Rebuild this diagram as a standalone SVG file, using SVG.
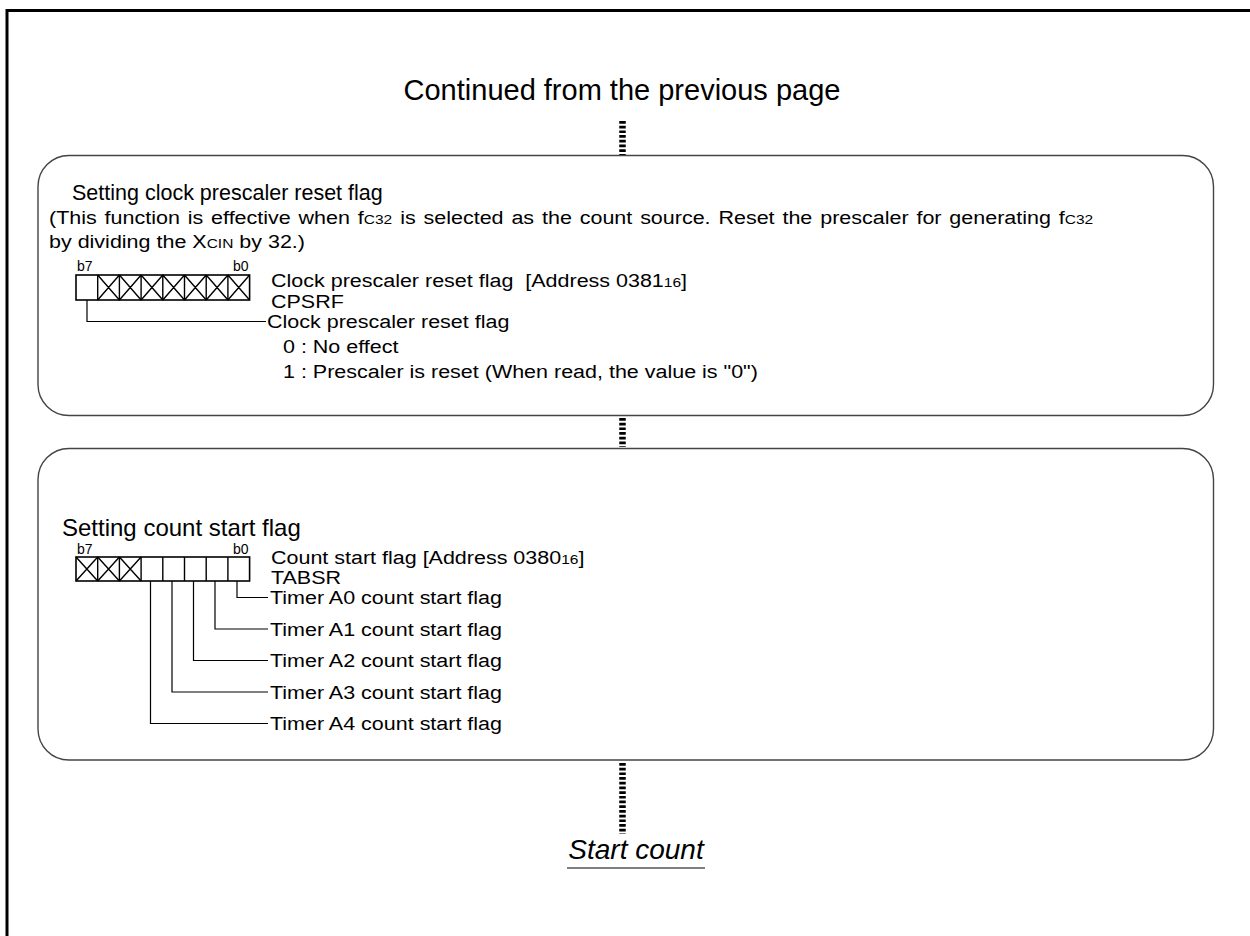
<svg xmlns="http://www.w3.org/2000/svg" width="1250" height="936" viewBox="0 0 1250 936">
<style>
text{font-family:"Liberation Sans",Arial,sans-serif;fill:#000}
.t{font-size:18px}
.h{font-size:24px}
.s{font-size:14px}
.sub{font-size:13px}
.box{fill:none;stroke:#444;stroke-width:1.4}
.reg{fill:#fff;stroke:#000;stroke-width:1.6}
.x{stroke:#000;stroke-width:1.4;fill:none}
.ln{stroke:#000;stroke-width:1.2;fill:none}
.dot{stroke:#000;stroke-width:6.5;stroke-dasharray:2.7 2;fill:none}
</style>
<rect x="7" y="10.5" width="1270" height="960" fill="#fff" stroke="#000" stroke-width="3"/>
<text x="622" y="100" text-anchor="middle" style="font-size:29px">Continued from the previous page</text>
<g id="connectors">
<line class="dot" x1="622.5" y1="121" x2="622.5" y2="155"/>
<line class="dot" x1="622.5" y1="418" x2="622.5" y2="447"/>
<line class="dot" x1="622.5" y1="763" x2="622.5" y2="834"/>
</g>
<g id="step1">
<rect class="box" x="38" y="155.5" width="1175.5" height="260" rx="31"/>
<text class="h" x="72" y="200" style="font-size:21.5px">Setting clock prescaler reset flag</text>
<text class="t" transform="translate(49,224) scale(1.194,1)" style="word-spacing:1.6px">(This function is effective when f<tspan class="sub">C32</tspan> is selected as the count source. Reset the prescaler for generating f<tspan class="sub">C32</tspan></text>
<text class="t" transform="translate(49,248) scale(1.194,1)">by dividing the X<tspan class="sub">CIN</tspan> by 32.)</text>
<text class="s" x="77" y="271">b7</text>
<text class="s" x="233" y="271">b0</text>
<g id="reg1">
<rect class="reg" x="76" y="275" width="173.6" height="25"/>
<path class="x" d="M97.7 275V300M119.4 275V300M141.1 275V300M162.8 275V300M184.5 275V300M206.2 275V300M227.9 275V300"/>
<path class="x" d="M97.7 275L119.4 300M119.4 275L97.7 300M119.4 275L141.1 300M141.1 275L119.4 300M141.1 275L162.8 300M162.8 275L141.1 300M162.8 275L184.5 300M184.5 275L162.8 300M184.5 275L206.2 300M206.2 275L184.5 300M206.2 275L227.9 300M227.9 275L206.2 300M227.9 275L249.6 300M249.6 275L227.9 300"/>
</g>
<text class="t" transform="translate(271,287) scale(1.194,1)" xml:space="preserve">Clock prescaler reset flag  [Address 0381<tspan class="sub">16</tspan>]</text>
<text class="t" transform="translate(271,307.5) scale(1.194,1)">CPSRF</text>
<path class="ln" d="M87 300V321.5H266"/>
<text class="t" transform="translate(267,328) scale(1.194,1)">Clock prescaler reset flag</text>
<text class="t" transform="translate(283,352.5) scale(1.194,1)">0 : No effect</text>
<text class="t" transform="translate(283,377.5) scale(1.194,1)">1 : Prescaler is reset (When read, the value is "0")</text>
</g>
<g id="step2">
<rect class="box" x="38" y="448.5" width="1175.5" height="311.5" rx="31"/>
<text class="h" x="62" y="535.5">Setting count start flag</text>
<text class="s" x="77" y="554">b7</text>
<text class="s" x="233" y="554">b0</text>
<g id="reg2">
<rect class="reg" x="76" y="557" width="173.6" height="24"/>
<path class="x" d="M97.7 557V581M119.4 557V581M141.1 557V581M162.8 557V581M184.5 557V581M206.2 557V581M227.9 557V581"/>
<path class="x" d="M76 557L97.7 581M97.7 557L76 581M97.7 557L119.4 581M119.4 557L97.7 581M119.4 557L141.1 581M141.1 557L119.4 581"/>
</g>
<text class="t" transform="translate(271,563.5) scale(1.194,1)">Count start flag [Address 0380<tspan class="sub">16</tspan>]</text>
<text class="t" transform="translate(271,583.5) scale(1.194,1)">TABSR</text>
<path class="ln" d="M237 581V597.5H268"/>
<path class="ln" d="M215 581V629H268"/>
<path class="ln" d="M193.5 581V660.5H268"/>
<path class="ln" d="M172 581V692H268"/>
<path class="ln" d="M150.5 581V723.5H268"/>
<text class="t" transform="translate(270,604) scale(1.194,1)">Timer A0 count start flag</text>
<text class="t" transform="translate(270,635.5) scale(1.194,1)">Timer A1 count start flag</text>
<text class="t" transform="translate(270,667) scale(1.194,1)">Timer A2 count start flag</text>
<text class="t" transform="translate(270,698.5) scale(1.194,1)">Timer A3 count start flag</text>
<text class="t" transform="translate(270,730) scale(1.194,1)">Timer A4 count start flag</text>
</g>
<g id="end">
<text x="636" y="859" text-anchor="middle" style="font-size:28px;font-style:italic">Start count</text>
<line x1="567" y1="868" x2="705" y2="868" stroke="#000" stroke-width="1.2"/>
</g>
</svg>
